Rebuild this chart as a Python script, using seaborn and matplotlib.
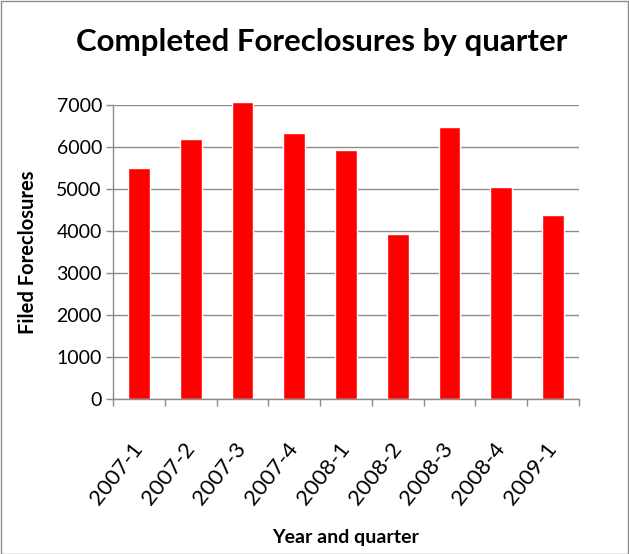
import matplotlib
matplotlib.use("Agg")
import matplotlib.pyplot as plt
import seaborn as sns
import pandas as pd
from matplotlib.patches import Rectangle

quarters = ["2007-1", "2007-2", "2007-3", "2007-4", "2008-1",
            "2008-2", "2008-3", "2008-4", "2009-1"]
foreclosures = [5500, 6200, 7080, 6330, 5920, 3930, 6480, 5050, 4380]
y_ticks = [0, 1000, 2000, 3000, 4000, 5000, 6000, 7000]

df = pd.DataFrame({"quarter": quarters, "filed": foreclosures})

sns.set_theme(style="white")
plt.rcParams["font.family"] = ["Lato", "DejaVu Sans"]
plt.rcParams["text.color"] = "black"
plt.rcParams["xtick.labelcolor"] = "black"
plt.rcParams["ytick.labelcolor"] = "black"

W, H = 629, 554
fig = plt.figure(figsize=(W / 100, H / 100), dpi=100)
ax = fig.add_axes([113 / W, 1 - 399 / H, (579 - 113) / W, (399 - 105) / H])

sns.barplot(data=df, x="quarter", y="filed", color="#ff0000", saturation=1,
            width=0.42, ax=ax)
for bar in ax.patches:
    bar.set_clip_on(False)

grey = "#8c8c8c"
ax.set_ylim(0, 7000)
ax.set_xlim(-0.5, len(quarters) - 0.5)
ax.set_yticks(y_ticks)
ax.set_yticklabels([str(v) for v in y_ticks], fontsize=14)
ax.yaxis.grid(True, color=grey, linewidth=1)
ax.set_axisbelow(True)
ax.tick_params(axis="y", length=5, width=1, color=grey, left=True, pad=3,
               labelcolor="black")

# labels centred on categories, tick marks on category boundaries
ax.set_xticks(range(len(quarters)))
ax.set_xticklabels(quarters, rotation=52, ha="right", va="center",
                   rotation_mode="anchor", fontsize=16)
ax.tick_params(axis="x", which="major", length=0, pad=33, labelcolor="black")
ax.set_xticks([i - 0.5 for i in range(len(quarters) + 1)], minor=True)
ax.tick_params(axis="x", which="minor", bottom=True, length=5, width=1,
               color=grey)

for side in ["top", "right"]:
    ax.spines[side].set_visible(False)
for side in ["left", "bottom"]:
    ax.spines[side].set_color(grey)
    ax.spines[side].set_linewidth(1)

ax.set_xlabel("")
ax.set_ylabel("")
fig.text(28 / W, 1 - 252 / H, "Filed Foreclosures", rotation=90,
         ha="center", va="center", fontsize=14.5, fontweight="bold",
         color="black")
fig.text(346 / W, 1 - 537 / H, "Year and quarter", ha="center",
         va="center", fontsize=14, fontweight="bold", color="black")
fig.text(322 / W, 1 - 42 / H, "Completed Foreclosures by quarter",
         ha="center", va="center", fontsize=22.5, fontweight="bold",
         color="black")

fig.patches.append(Rectangle((0.5 / W, 0.5 / H), 1 - 1.5 / W, 1 - 1.5 / H,
                             transform=fig.transFigure, fill=False,
                             edgecolor=grey, linewidth=1))

fig.savefig("out.png", dpi=100)
